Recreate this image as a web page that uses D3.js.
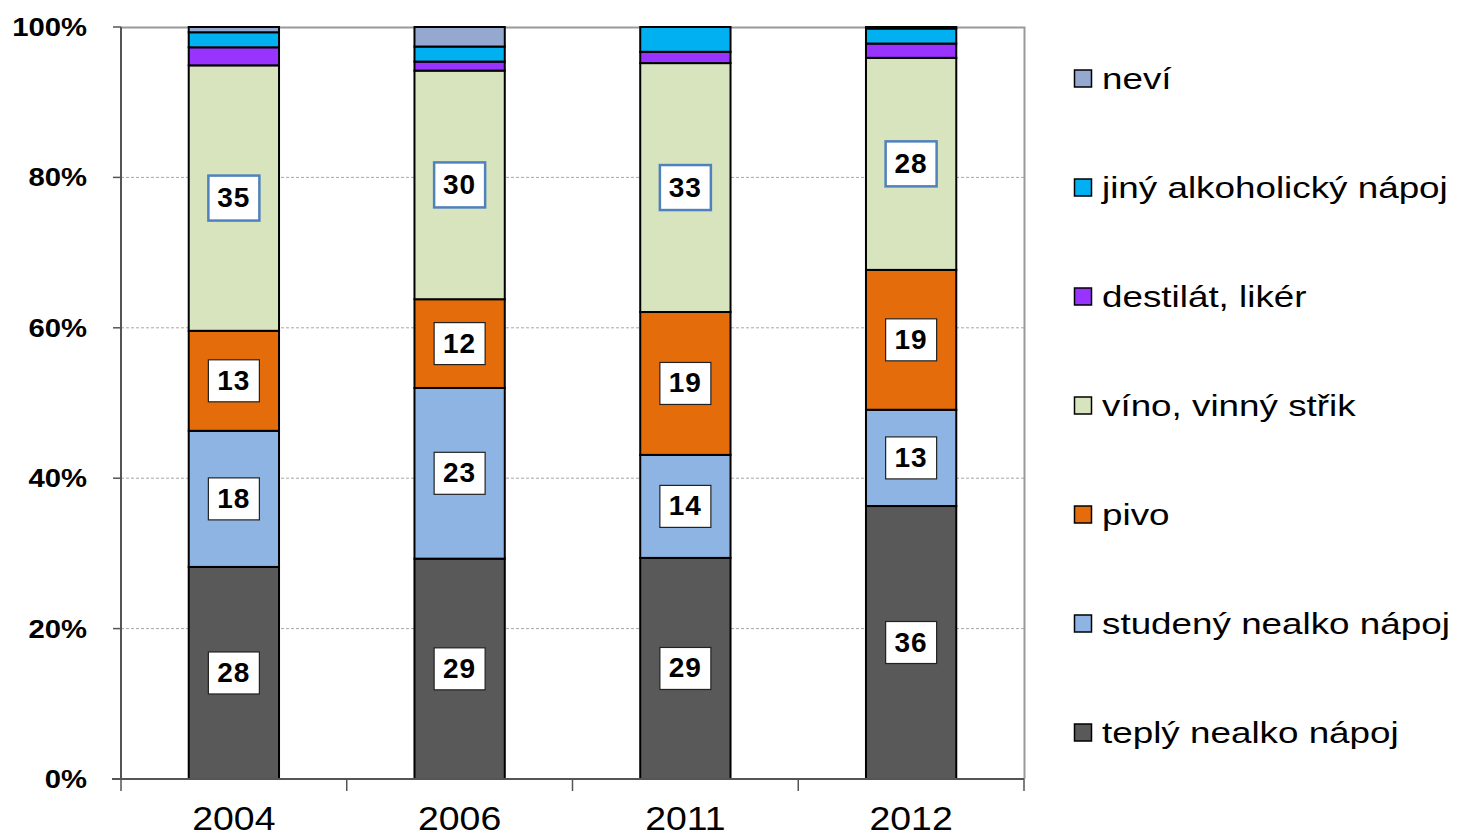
<!DOCTYPE html>
<html>
<head>
<meta charset="utf-8">
<script src="https://cdn.jsdelivr.net/npm/d3@7"></script>
<style>
  body { margin: 0; background: #fff; }
  svg { display: block; font-family: "Liberation Sans", Arial, sans-serif; }
</style>
</head>
<body>
<svg id="chart" width="1462" height="838"></svg>
<script>
const years = ["2004", "2006", "2011", "2012"];

// series from bottom to top of each bar
const teply = [28.2, 29.3, 29.4, 36.3];
const studeny = [18.1, 22.7, 13.7, 12.8];
const pivo = [13.3, 11.8, 19.0, 18.6];
const vino = [35.3, 30.4, 33.1, 28.2];
const destilat = [2.4, 1.2, 1.5, 1.9];
const jiny = [2.0, 2.0, 3.3, 2.0];
const nevi = [0.7, 2.6, 0.0, 0.2];

const seriesInfo = [
  { id: "teply", label: "teplý nealko nápoj", values: teply, color: "#595959", showLabel: true },
  { id: "studeny", label: "studený nealko nápoj", values: studeny, color: "#8eb4e3", showLabel: true },
  { id: "pivo", label: "pivo", values: pivo, color: "#e46c0a", showLabel: true },
  { id: "vino", label: "víno, vinný střik", values: vino, color: "#d7e4bd", showLabel: true, blueBox: true },
  { id: "destilat", label: "destilát, likér", values: destilat, color: "#9933ff", showLabel: false },
  { id: "jiny", label: "jiný alkoholický nápoj", values: jiny, color: "#00b0f0", showLabel: false },
  { id: "nevi", label: "neví", values: nevi, color: "#95a9d0", showLabel: false }
];

const yTicks = [0, 20, 40, 60, 80, 100];

const margin = { top: 27, right: 438, bottom: 59, left: 121 };
const width = 1462;
const height = 838;
const innerWidth = width - margin.left - margin.right;
const innerHeight = height - margin.top - margin.bottom;

const data = years.map((year, i) => {
  const row = { year };
  seriesInfo.forEach((s) => (row[s.id] = s.values[i]));
  return row;
});

const stack = d3.stack().keys(seriesInfo.map((s) => s.id));
const stacked = stack(data);

const xScale = d3.scaleBand()
  .domain(years)
  .range([0, innerWidth])
  .paddingInner(0.6)
  .paddingOuter(0.3);
const yScale = d3.scaleLinear().domain([0, 100]).range([innerHeight, 0]);

const svg = d3.select("#chart");
const innerChart = svg.append("g")
  .attr("transform", `translate(${margin.left}, ${margin.top})`);

// stretched text helper (the original text is wider than plain Arial)
const addText = (parent, x, y, str, opts) => {
  return parent.append("text")
    .attr("transform", `translate(${x}, ${y}) scale(${opts.stretch}, 1)`)
    .attr("text-anchor", opts.anchor || "start")
    .style("font-size", opts.size + "px")
    .style("font-weight", opts.weight || 400)
    .style("fill", "#000")
    .text(str);
};

// gridlines
innerChart.append("g")
  .selectAll("line")
  .data(yTicks.filter((t) => t > 0 && t < 100))
  .join("line")
  .attr("x1", 0)
  .attr("x2", innerWidth)
  .attr("y1", (d) => yScale(d))
  .attr("y2", (d) => yScale(d))
  .attr("stroke", "#a6a6a6")
  .attr("stroke-width", 1)
  .attr("stroke-dasharray", "3 2");

// plot border top and right
innerChart.append("path")
  .attr("d", `M0,${yScale(100) + 0.5}H${innerWidth + 0.5}V${innerHeight}`)
  .attr("fill", "none")
  .attr("stroke", "#999")
  .attr("stroke-width", 2);

// bars
const layers = innerChart.append("g")
  .selectAll("g")
  .data(stacked)
  .join("g")
  .attr("fill", (d, i) => seriesInfo[i].color);

layers.selectAll("rect")
  .data((d) => d.filter((p) => p[1] - p[0] > 0))
  .join("rect")
  .attr("x", (d) => xScale(d.data.year))
  .attr("y", (d) => yScale(d[1]))
  .attr("width", xScale.bandwidth())
  .attr("height", (d) => yScale(d[0]) - yScale(d[1]))
  .attr("stroke", "#000")
  .attr("stroke-width", 2);

// value labels
const labelGroup = innerChart.append("g");
stacked.forEach((layer, i) => {
  const info = seriesInfo[i];
  if (!info.showLabel) return;
  layer.forEach((p) => {
    const cx = xScale(p.data.year) + xScale.bandwidth() / 2;
    const cy = (yScale(p[0]) + yScale(p[1])) / 2;
    const w = 51;
    const h = info.blueBox ? 45 : 42;
    labelGroup.append("rect")
      .attr("x", cx - w / 2)
      .attr("y", cy - h / 2)
      .attr("width", w)
      .attr("height", h)
      .attr("fill", "#fff")
      .attr("stroke", info.blueBox ? "#4f81bd" : "#222")
      .attr("stroke-width", info.blueBox ? 2.5 : 1.2);
    labelGroup.append("text")
      .attr("x", cx)
      .attr("y", cy + 9)
      .attr("text-anchor", "middle")
      .style("font-size", "28px")
      .style("font-weight", 700)
      .style("letter-spacing", "1px")
      .style("fill", "#000")
      .text(Math.round(p[1] - p[0]));
  });
});

// y axis
const yAxis = innerChart.append("g");
yAxis.append("line")
  .attr("x1", 0).attr("x2", 0)
  .attr("y1", 0).attr("y2", innerHeight)
  .attr("stroke", "#555")
  .attr("stroke-width", 2);
yTicks.forEach((t) => {
  yAxis.append("line")
    .attr("x1", -8).attr("x2", 0)
    .attr("y1", yScale(t)).attr("y2", yScale(t))
    .attr("stroke", "#555")
    .attr("stroke-width", 1.5);
  addText(yAxis, -34, yScale(t) + 9, t + "%", {
    size: 25, weight: 700, stretch: 1.17, anchor: "end"
  });
});

// x axis
const xAxis = innerChart.append("g").attr("transform", `translate(0, ${innerHeight})`);
xAxis.append("line")
  .attr("x1", -9).attr("x2", innerWidth)
  .attr("y1", 0).attr("y2", 0)
  .attr("stroke", "#555")
  .attr("stroke-width", 2);
const step = xScale.step();
d3.range(years.length + 1).forEach((i) => {
  xAxis.append("line")
    .attr("x1", i * step).attr("x2", i * step)
    .attr("y1", 0).attr("y2", 12)
    .attr("stroke", "#555")
    .attr("stroke-width", 1.5);
});
years.forEach((year) => {
  addText(xAxis, xScale(year) + xScale.bandwidth() / 2, 51, year, {
    size: 34, weight: 400, stretch: 1.1, anchor: "middle"
  });
});

// legend (top item is the last series)
const legend = svg.append("g").attr("transform", "translate(1074, 78)");
const legendItems = seriesInfo.slice().reverse();
const legendSpacing = 109;
legendItems.forEach((s, i) => {
  const y = i * legendSpacing;
  legend.append("rect")
    .attr("x", 0.5)
    .attr("y", y - 8)
    .attr("width", 17)
    .attr("height", 17)
    .attr("fill", s.color)
    .attr("stroke", "#000")
    .attr("stroke-width", 1.5);
  addText(legend, 28, y + 11, s.label, { size: 29, weight: 400, stretch: 1.27 });
});
</script>
</body>
</html>
